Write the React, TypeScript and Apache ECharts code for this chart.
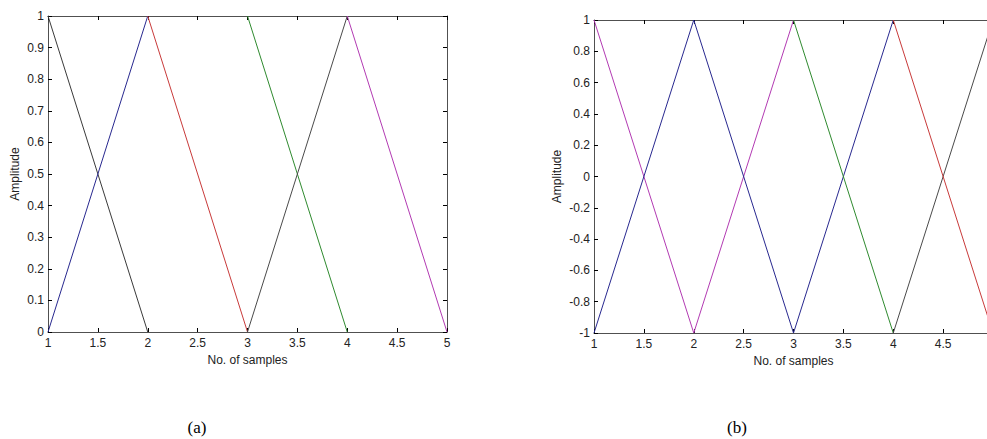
import React, { useEffect, useRef } from "react";
import * as echarts from "echarts";

// ---- data ----
const xTicksLabels = ["1", "1.5", "2", "2.5", "3", "3.5", "4", "4.5", "5"];

// (a) left panel: amplitude 0..1
const aBlack1: [number, number][] = [[1, 1], [2, 0]];
const aBlue: [number, number][] = [[1, 0], [2, 1]];
const aRed: [number, number][] = [[2, 1], [3, 0]];
const aGreen: [number, number][] = [[3, 1], [4, 0]];
const aBlack2: [number, number][] = [[3, 0], [4, 1]];
const aMagenta: [number, number][] = [[4, 1], [5, 0]];

// (b) right panel: amplitude -1..1
const bMagenta: [number, number][] = [[1, 1], [2, -1], [3, 1]];
const bBlue: [number, number][] = [[1, -1], [2, 1], [3, -1], [4, 1]];
const bGreen: [number, number][] = [[3, 1], [4, -1]];
const bGray: [number, number][] = [[4, -1], [5, 1]];
const bRed: [number, number][] = [[4, 1], [5, -1]];

const captions = ["(a)", "(b)"];
const xName = "No. of samples";
const yName = "Amplitude";

const COL = {
  black: "#3a3a3a",
  blue: "#28288f",
  red: "#c83a3a",
  green: "#2f8a2f",
  magenta: "#b23ab2",
  gray: "#4a4a4a",
};

const FONT = "'Liberation Sans', Arial, sans-serif";
const FRAME = "#505050";

export default function App() {
  const ref = useRef<HTMLDivElement>(null);
  useEffect(() => {
    if (!ref.current) return;
    const chart = echarts.init(ref.current, undefined, { renderer: "svg" });

    const axisLine = { show: true, onZero: false, lineStyle: { color: FRAME, width: 1 } };
    const tick = { show: true, inside: true, length: 4, lineStyle: { color: "#000", width: 1 } };
    const label = { color: "#222", fontSize: 12, fontFamily: FONT };

    const xMain = (gi: number, showMax: boolean) => ({
      type: "value",
      gridIndex: gi,
      min: 1,
      max: 5,
      interval: 0.5,
      position: "bottom",
      axisLine,
      axisTick: tick,
      splitLine: { show: false },
      axisLabel: {
        ...label,
        margin: 5,
        showMinLabel: true,
        showMaxLabel: showMax,
        formatter: (v: number) => {
          const i = Math.round((v - 1) / 0.5);
          return xTicksLabels[i] ?? "";
        },
      },
      name: xName,
      nameLocation: "middle",
      nameGap: 20,
      nameTextStyle: { ...label },
    });
    const xTop = (gi: number) => ({
      type: "value",
      gridIndex: gi,
      min: 1,
      max: 5,
      interval: 0.5,
      position: "top",
      axisLine,
      axisTick: tick,
      splitLine: { show: false },
      axisLabel: { show: false },
    });
    const yMain = (gi: number, min: number, max: number, interval: number, gap: number) => ({
      type: "value",
      gridIndex: gi,
      min,
      max,
      interval,
      position: "left",
      axisLine,
      axisTick: tick,
      splitLine: { show: false },
      axisLabel: { ...label, margin: 4 },
      name: yName,
      nameLocation: "middle",
      nameGap: gap,
      nameTextStyle: { ...label },
    });
    const yRight = (gi: number, min: number, max: number, interval: number) => ({
      type: "value",
      gridIndex: gi,
      min,
      max,
      interval,
      position: "right",
      axisLine,
      axisTick: tick,
      splitLine: { show: false },
      axisLabel: { show: false },
    });

    const line = (data: [number, number][], color: string, xi: number, yi: number) => ({
      type: "line",
      data,
      xAxisIndex: xi,
      yAxisIndex: yi,
      symbol: "none",
      lineStyle: { color, width: 1 },
      silent: true,
    });

    chart.setOption({
      animation: false,
      backgroundColor: "#fff",
      grid: [
        { left: 48, top: 16, width: 399, height: 316, containLabel: false, outerBoundsMode: "none" },
        { left: 594, top: 20, width: 399, height: 313, containLabel: false, outerBoundsMode: "none" },
      ],
      xAxis: [xMain(0, true), xTop(0), xMain(1, false), xTop(1)],
      yAxis: [
        yMain(0, 0, 1, 0.1, 27),
        yRight(0, 0, 1, 0.1),
        yMain(1, -1, 1, 0.2, 31),
        yRight(1, -1, 1, 0.2),
      ],
      series: [
        line(aBlack1, COL.black, 0, 0),
        line(aBlue, COL.blue, 0, 0),
        line(aRed, COL.red, 0, 0),
        line(aGreen, COL.green, 0, 0),
        line(aBlack2, COL.gray, 0, 0),
        line(aMagenta, COL.magenta, 0, 0),
        line(bMagenta, COL.magenta, 2, 2),
        line(bBlue, COL.blue, 2, 2),
        line(bGreen, COL.green, 2, 2),
        line(bGray, COL.gray, 2, 2),
        line(bRed, COL.red, 2, 2),
      ],
      graphic: [
        {
          type: "text",
          x: 197,
          y: 427,
          style: {
            text: captions[0],
            fill: "#000",
            font: "17px 'Liberation Serif', 'Times New Roman', serif",
            align: "center",
            verticalAlign: "middle",
          },
        },
        {
          type: "text",
          x: 737,
          y: 427,
          style: {
            text: captions[1],
            fill: "#000",
            font: "17px 'Liberation Serif', 'Times New Roman', serif",
            align: "center",
            verticalAlign: "middle",
          },
        },
      ],
    });
    return () => chart.dispose();
  }, []);

  return (
    <div
      ref={ref}
      style={{ position: "fixed", left: 0, top: 0, width: 987, height: 439, overflow: "hidden" }}
    />
  );
}
